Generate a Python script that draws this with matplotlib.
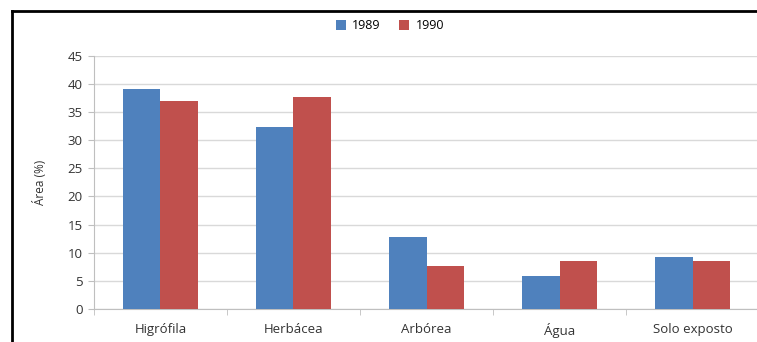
import matplotlib.pyplot as plt
from matplotlib.lines import Line2D
import numpy as np

# Land cover classes and area share per year
categories = ["Higrófila", "Herbácea", "Arbórea", "Água", "Solo exposto"]
area_1989 = [39.1, 32.3, 12.8, 5.9, 9.2]
area_1990 = [37.0, 37.7, 7.6, 8.6, 8.5]
years = ["1989", "1990"]

plt.rcParams['font.family'] = ['Open Sans', 'DejaVu Sans']

fig = plt.figure(figsize=(7.57, 3.42), dpi=100)
ax = fig.add_axes([0.124, 0.0965, 0.879, 0.7405])

x = np.arange(len(categories))
w = 0.283
b1 = ax.bar(x - w / 2, area_1989, w, color='#4F81BD', label=years[0], zorder=3)
b2 = ax.bar(x + w / 2, area_1990, w, color='#C0504D', label=years[1], zorder=3)

ax.set_xlim(-0.5, len(categories) - 0.5)
ax.set_ylim(0, 45)
ax.set_yticks(range(0, 46, 5))
ax.yaxis.grid(True, color='#D9D9D9', linewidth=1, zorder=0)
ax.set_axisbelow(True)

# category labels centred, tick marks on the boundaries
ax.set_xticks(x)
ax.set_xticklabels(categories)
ax.set_xticks(np.arange(-0.5, len(categories), 1), minor=True)
ax.tick_params(axis='x', which='major', length=0, pad=10, labelsize=9.5, colors='#333333')
ax.tick_params(axis='x', which='minor', length=4, color='#BFBFBF')
ax.tick_params(axis='y', length=4, color='#BFBFBF', labelsize=9.5, labelcolor='#333333', pad=4)

for side in ['top', 'right']:
    ax.spines[side].set_visible(False)
for side in ['left', 'bottom']:
    ax.spines[side].set_color('#BFBFBF')

ax.set_ylabel("Área (%)", fontsize=8.5, color='#333333', labelpad=15)

fig.legend(handles=[b1, b2], loc='center', bbox_to_anchor=(0.515, 0.924), ncol=2,
           frameon=False, fontsize=9, handlelength=0.8, handleheight=0.8,
           handletextpad=0.5, columnspacing=1.5)

# outer chart frame: only the top and left edges fall inside the image
fx = 12 / 757
fy = 1 - 11 / 342
fig.add_artist(Line2D([fx, 1.05], [fy, fy], transform=fig.transFigure, color='black', linewidth=2))
fig.add_artist(Line2D([fx, fx], [-0.05, fy], transform=fig.transFigure, color='black', linewidth=2))

fig.savefig("out.png", dpi=100)
